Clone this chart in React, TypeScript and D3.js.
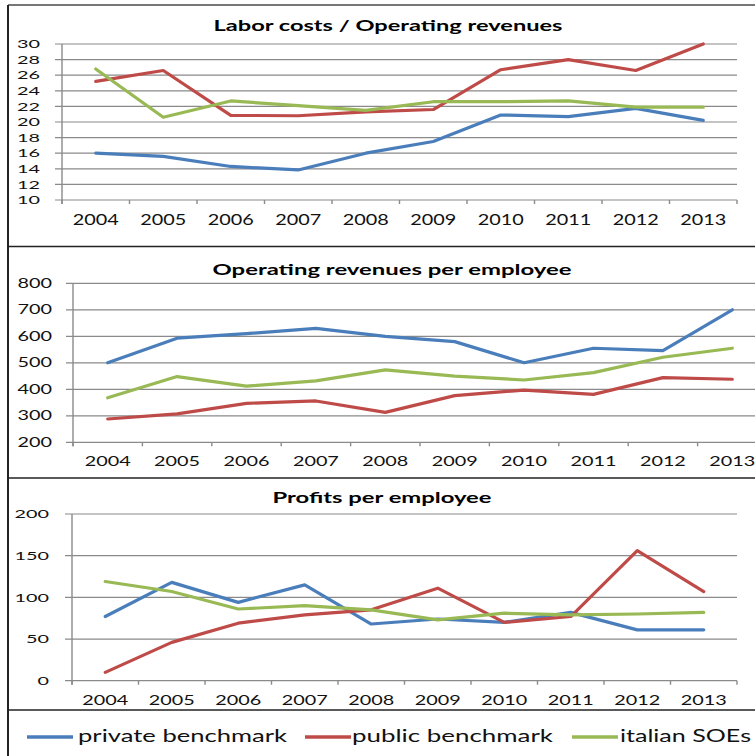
import React from "react";
import * as d3 from "d3";

// categories
const years = ["2004", "2005", "2006", "2007", "2008", "2009", "2010", "2011", "2012", "2013"];

// Labor costs / Operating revenues
const laborPrivate = [16.0, 15.6, 14.3, 13.85, 16.0, 17.5, 20.9, 20.7, 21.75, 20.2];
const laborPublic = [25.2, 26.6, 20.85, 20.8, 21.3, 21.6, 26.7, 28.0, 26.6, 30.0];
const laborSoe = [26.8, 20.6, 22.7, 22.1, 21.5, 22.6, 22.6, 22.7, 21.9, 21.9];
const laborTicks = [10, 12, 14, 16, 18, 20, 22, 24, 26, 28, 30];

// Operating revenues per employee
const revPrivate = [500, 593, 610, 630, 600, 580, 500, 555, 546, 700];
const revPublic = [288, 307, 347, 356, 313, 376, 397, 381, 444, 438];
const revSoe = [368, 448, 412, 432, 473, 450, 435, 463, 521, 555];
const revTicks = [200, 300, 400, 500, 600, 700, 800];

// Profits per employee
const profPrivate = [77, 118, 94, 115, 68, 74, 70, 82, 61, 61];
const profPublic = [10, 46, 69, 79, 85, 111, 70, 77, 156, 107];
const profSoe = [119, 107, 86, 90, 85, 73, 81, 79, 80, 82];
const profTicks = [0, 50, 100, 150, 200];

const seriesNames = ["private benchmark", "public benchmark", "italian SOEs"];
const colors = ["#4A7EBB", "#BE4B48", "#98B954"];

const FONT = "Lato, 'Open Sans', sans-serif";
const GRID = "#8a8a8a";

interface PanelProps {
    title: string;
    titleX: number;
    titleY: number;
    titleW: number;
    series: number[][];
    ticks: number[];
    x0: number;
    x1: number;
    yTop: number;
    yBot: number;
    yLabelRight: number;
    yFont: number;
    xFont: number;
    xLabelY: number;
}

const Panel: React.FC<PanelProps> = ({
    title, titleX, titleY, titleW, series, ticks,
    x0, x1, yTop, yBot, yLabelRight, yFont, xFont, xLabelY
}) => {
    const x = d3.scaleBand().domain(years).range([x0, x1]);
    const y = d3.scaleLinear()
        .domain([ticks[0], ticks[ticks.length - 1]])
        .range([yBot, yTop]);
    const line = d3.line<number>()
        .x((_, i) => (x(years[i]) || 0) + x.bandwidth() / 2)
        .y(d => y(d));
    const edges = years.map(yr => x(yr) || 0).concat([x1]);

    return (
        <g>
            <text x={titleX} y={titleY} textAnchor="middle" fontFamily={FONT}
                fontWeight="bold" fontSize={15} textLength={titleW}
                lengthAdjust="spacingAndGlyphs">{title}</text>
            {ticks.map(t => (
                <g key={t}>
                    <line x1={x0 - 7} x2={x1} y1={y(t)} y2={y(t)}
                        stroke={GRID} strokeWidth={1.2} />
                    <text x={yLabelRight} y={y(t)} dy="0.36em" textAnchor="end"
                        fontFamily={FONT} fontSize={yFont} fill="#111"
                        textLength={String(t).length * 11.5}
                        lengthAdjust="spacingAndGlyphs">{t}</text>
                </g>
            ))}
            <line x1={x0} x2={x0} y1={yTop} y2={yBot + 4} stroke={GRID} strokeWidth={1.4} />
            {edges.map((e, i) => (
                <line key={i} x1={e} x2={e} y1={yBot} y2={yBot + 4}
                    stroke={GRID} strokeWidth={1.4} />
            ))}
            {years.map(yr => (
                <text key={yr} x={(x(yr) || 0) + x.bandwidth() / 2} y={xLabelY}
                    textAnchor="middle" fontFamily={FONT} fontSize={xFont} fill="#111"
                    textLength={46} lengthAdjust="spacingAndGlyphs">{yr}</text>
            ))}
            {series.map((s, i) => (
                <path key={i} d={line(s) || ""} fill="none" stroke={colors[i]}
                    strokeWidth={3.2} strokeLinejoin="round" strokeLinecap="round" />
            ))}
        </g>
    );
};

const legendPos = [
    { lx: 27, tx: 78, w: 209 },
    { lx: 305, tx: 352, w: 201 },
    { lx: 572, tx: 620, w: 131 },
];

const App: React.FC = () => {
    return (
        <svg width={755} height={756}
            style={{ position: "absolute", left: 0, top: 0, background: "#fff" }}>
            <rect x={0} y={0} width={755} height={756} fill="#fff" />

            {/* frame */}
            <line x1={8} x2={755} y1={5} y2={5} stroke="#777" strokeWidth={2} />
            <line x1={8} x2={8} y1={5} y2={756} stroke="#222" strokeWidth={2} />
            <line x1={8} x2={755} y1={246.5} y2={246.5} stroke="#222" strokeWidth={1.6} />
            <line x1={8} x2={755} y1={478} y2={478} stroke="#222" strokeWidth={1.6} />
            <line x1={8} x2={755} y1={710} y2={710} stroke="#222" strokeWidth={1.6} />

            <Panel title="Labor costs / Operating revenues" titleX={388} titleY={31} titleW={349}
                series={[laborPrivate, laborPublic, laborSoe]} ticks={laborTicks}
                x0={62} x1={737} yTop={44} yBot={200} yLabelRight={40}
                yFont={11.6} xFont={14.4} xLabelY={225} />

            <Panel title="Operating revenues per employee" titleX={392} titleY={275} titleW={359}
                series={[revPrivate, revPublic, revSoe]} ticks={revTicks}
                x0={73} x1={767} yTop={283.3} yBot={442.3} yLabelRight={52}
                yFont={12.5} xFont={13} xLabelY={466} />

            <Panel title="Profits per employee" titleX={382} titleY={503} titleW={219}
                series={[profPrivate, profPublic, profSoe]} ticks={profTicks}
                x0={72} x1={737} yTop={514} yBot={680.7} yLabelRight={49}
                yFont={11.6} xFont={12.5} xLabelY={705} />

            {/* legend */}
            {seriesNames.map((name, i) => (
                <g key={name}>
                    <line x1={legendPos[i].lx} x2={legendPos[i].lx + 46} y1={737} y2={737}
                        stroke={colors[i]} strokeWidth={3.5} />
                    <text x={legendPos[i].tx} y={742} fontFamily={FONT} fontSize={16.6}
                        fill="#111" textLength={legendPos[i].w}
                        lengthAdjust="spacingAndGlyphs">{name}</text>
                </g>
            ))}
        </svg>
    );
};

export default App;
